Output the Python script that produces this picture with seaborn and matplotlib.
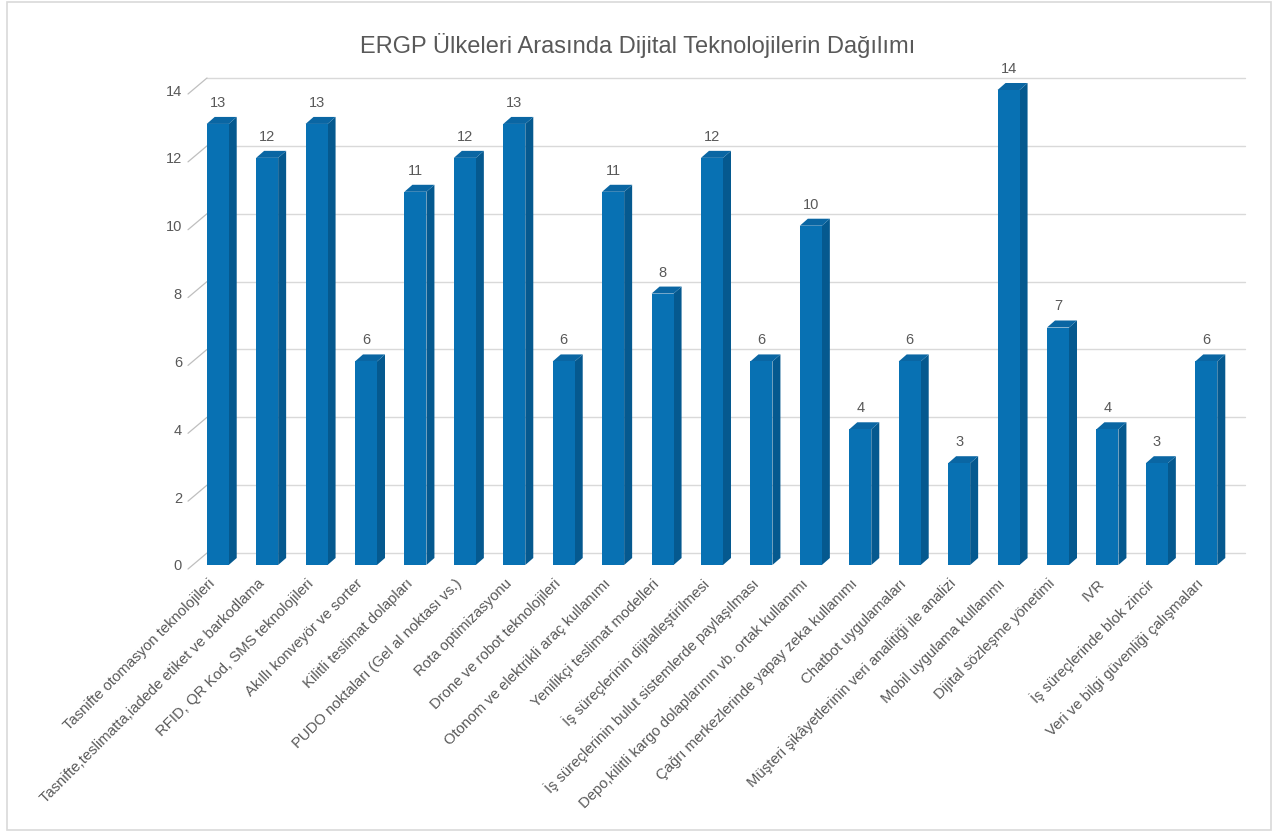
import matplotlib
matplotlib.use("Agg")
import matplotlib.pyplot as plt
import matplotlib.transforms as mtransforms
from matplotlib.patches import Polygon, Rectangle
import seaborn as sns
import pandas as pd

# Data
categories = [
    "Tasnifte otomasyon teknolojileri",
    "Tasnifte,teslimatta,iadede etiket ve barkodlama",
    "RFID, QR Kod, SMS teknolojileri",
    "Akıllı konveyör ve sorter",
    "Kilitli teslimat dolapları",
    "PUDO noktaları (Gel al noktası vs.)",
    "Rota optimizasyonu",
    "Drone ve robot teknolojileri",
    "Otonom ve elektrikli araç kullanımı",
    "Yenilikçi teslimat modelleri",
    "İş süreçlerinin dijitalleştirilmesi",
    "İş süreçlerinin bulut sistemlerde paylaşılması",
    "Depo,kilitli kargo dolaplarının vb. ortak kullanımı",
    "Çağrı merkezlerinde yapay zeka kullanımı",
    "Chatbot uygulamaları",
    "Müşteri şikâyetlerinin veri analitiği ile analizi",
    "Mobil uygulama kullanımı",
    "Dijital sözleşme yönetimi",
    "IVR",
    "İş süreçlerinde blok zincir",
    "Veri ve bilgi güvenliği çalışmaları",
]
values = [13, 12, 13, 6, 11, 12, 13, 6, 11, 8, 12, 6, 10, 4, 6, 3, 14, 7, 4, 3, 6]
y_ticks = [0, 2, 4, 6, 8, 10, 12, 14]
title = "ERGP Ülkeleri Arasında Dijital Teknolojilerin Dağılımı"

# Style
sns.set_style("white")
plt.rcParams["font.family"] = ["Liberation Sans", "DejaVu Sans"]
text_color = "#595959"
grid_color = "#D9D9D9"
front_color = "#0871B3"
side_color = "#05598F"
top_color = "#0A66A3"

DPI = 100
W, H = 1275, 831
fig = plt.figure(figsize=(W / DPI, H / DPI), dpi=DPI)

# Front plane of the plot area in pixels
left_px, right_px = 193, 1231
bottom_px, top_px = 565, 90
ax = fig.add_axes([left_px / W, (H - bottom_px) / H,
                   (right_px - left_px) / W, (bottom_px - top_px) / H])

df = pd.DataFrame({"kategori": categories, "deger": values})
sns.barplot(data=df, x="kategori", y="deger", order=categories,
            color=front_color, saturation=1, width=0.445, ax=ax,
            edgecolor="none", linewidth=0, zorder=3)

ax.set_xlim(-0.5, len(categories) - 0.5)
ax.set_ylim(0, 14)
for s in ax.spines.values():
    s.set_visible(False)
ax.set_xlabel("")
ax.set_ylabel("")

# Depth of the back wall and of the bars (pixels)
wall_dx, wall_dy = 14, 12
bar_dx, bar_dy = 8, 7

wall = mtransforms.offset_copy(ax.transData, fig=fig, x=wall_dx, y=wall_dy, units="dots")
x0, x1 = ax.get_xlim()
for t in y_ticks:
    ax.plot([x0, x1], [t, t], color=grid_color, lw=1, transform=wall,
            clip_on=False, zorder=1)
    # connector from the value axis to the back wall
    start = mtransforms.offset_copy(ax.transData, fig=fig, x=-5, y=-4, units="dots")
    p_start = start.transform((x0, t))
    p_end = wall.transform((x0, t))
    ax.plot([p_start[0], p_end[0]], [p_start[1], p_end[1]], color="#BFBFBF",
            lw=0.9, transform=None, clip_on=False, zorder=1)

# Side and top faces of each column
ux = ax.transData.transform((1, 0))[0] - ax.transData.transform((0, 0))[0]
uy = ax.transData.transform((0, 1))[1] - ax.transData.transform((0, 0))[1]
ddx, ddy = bar_dx / ux, bar_dy / uy
for p in ax.patches:
    xl = p.get_x()
    xr = xl + p.get_width()
    yt = p.get_height()
    side = Polygon([(xr, 0), (xr + ddx, ddy), (xr + ddx, yt + ddy), (xr, yt)],
                   closed=True, facecolor=side_color, edgecolor="none",
                   clip_on=False, zorder=2.9)
    top = Polygon([(xl, yt), (xl + ddx, yt + ddy), (xr + ddx, yt + ddy), (xr, yt)],
                  closed=True, facecolor=top_color, edgecolor="none",
                  clip_on=False, zorder=2.9)
    ax.add_patch(side)
    ax.add_patch(top)
    ax.annotate(f"{yt:g}", (p.get_x() + p.get_width() / 2, yt),
                xytext=(0, bar_dy + 7), textcoords="offset pixels",
                ha="center", va="bottom", fontsize=10.5, color=text_color,
                annotation_clip=False)

# Value axis labels
ax.set_yticks(y_ticks)
ax.set_yticklabels([str(t) for t in y_ticks])
ax.tick_params(axis="y", length=0, pad=8, labelsize=10.5, labelcolor=text_color)

# Category labels
ax.set_xticks(range(len(categories)))
ax.set_xticklabels(categories, rotation=45, ha="right", va="center",
                   rotation_mode="anchor")
ax.tick_params(axis="x", length=0, pad=12, labelsize=10.7, labelcolor=text_color)
shift = mtransforms.ScaledTranslation(-5 / DPI, 0, fig.dpi_scale_trans)
for lbl in ax.get_xticklabels():
    lbl.set_transform(lbl.get_transform() + shift)

fig.text(0.5, 1 - 45 / H, title, ha="center", va="center", fontsize=17,
         color=text_color)

# Chart border
fig.patches.append(Rectangle((6.5 / W, 1.5 / H), (1271 - 6.5) / W, (829 - 1.5) / H,
                             transform=fig.transFigure, fill=False,
                             edgecolor=grid_color, lw=1.2))

fig.savefig("out.png", dpi=DPI, facecolor="white")
